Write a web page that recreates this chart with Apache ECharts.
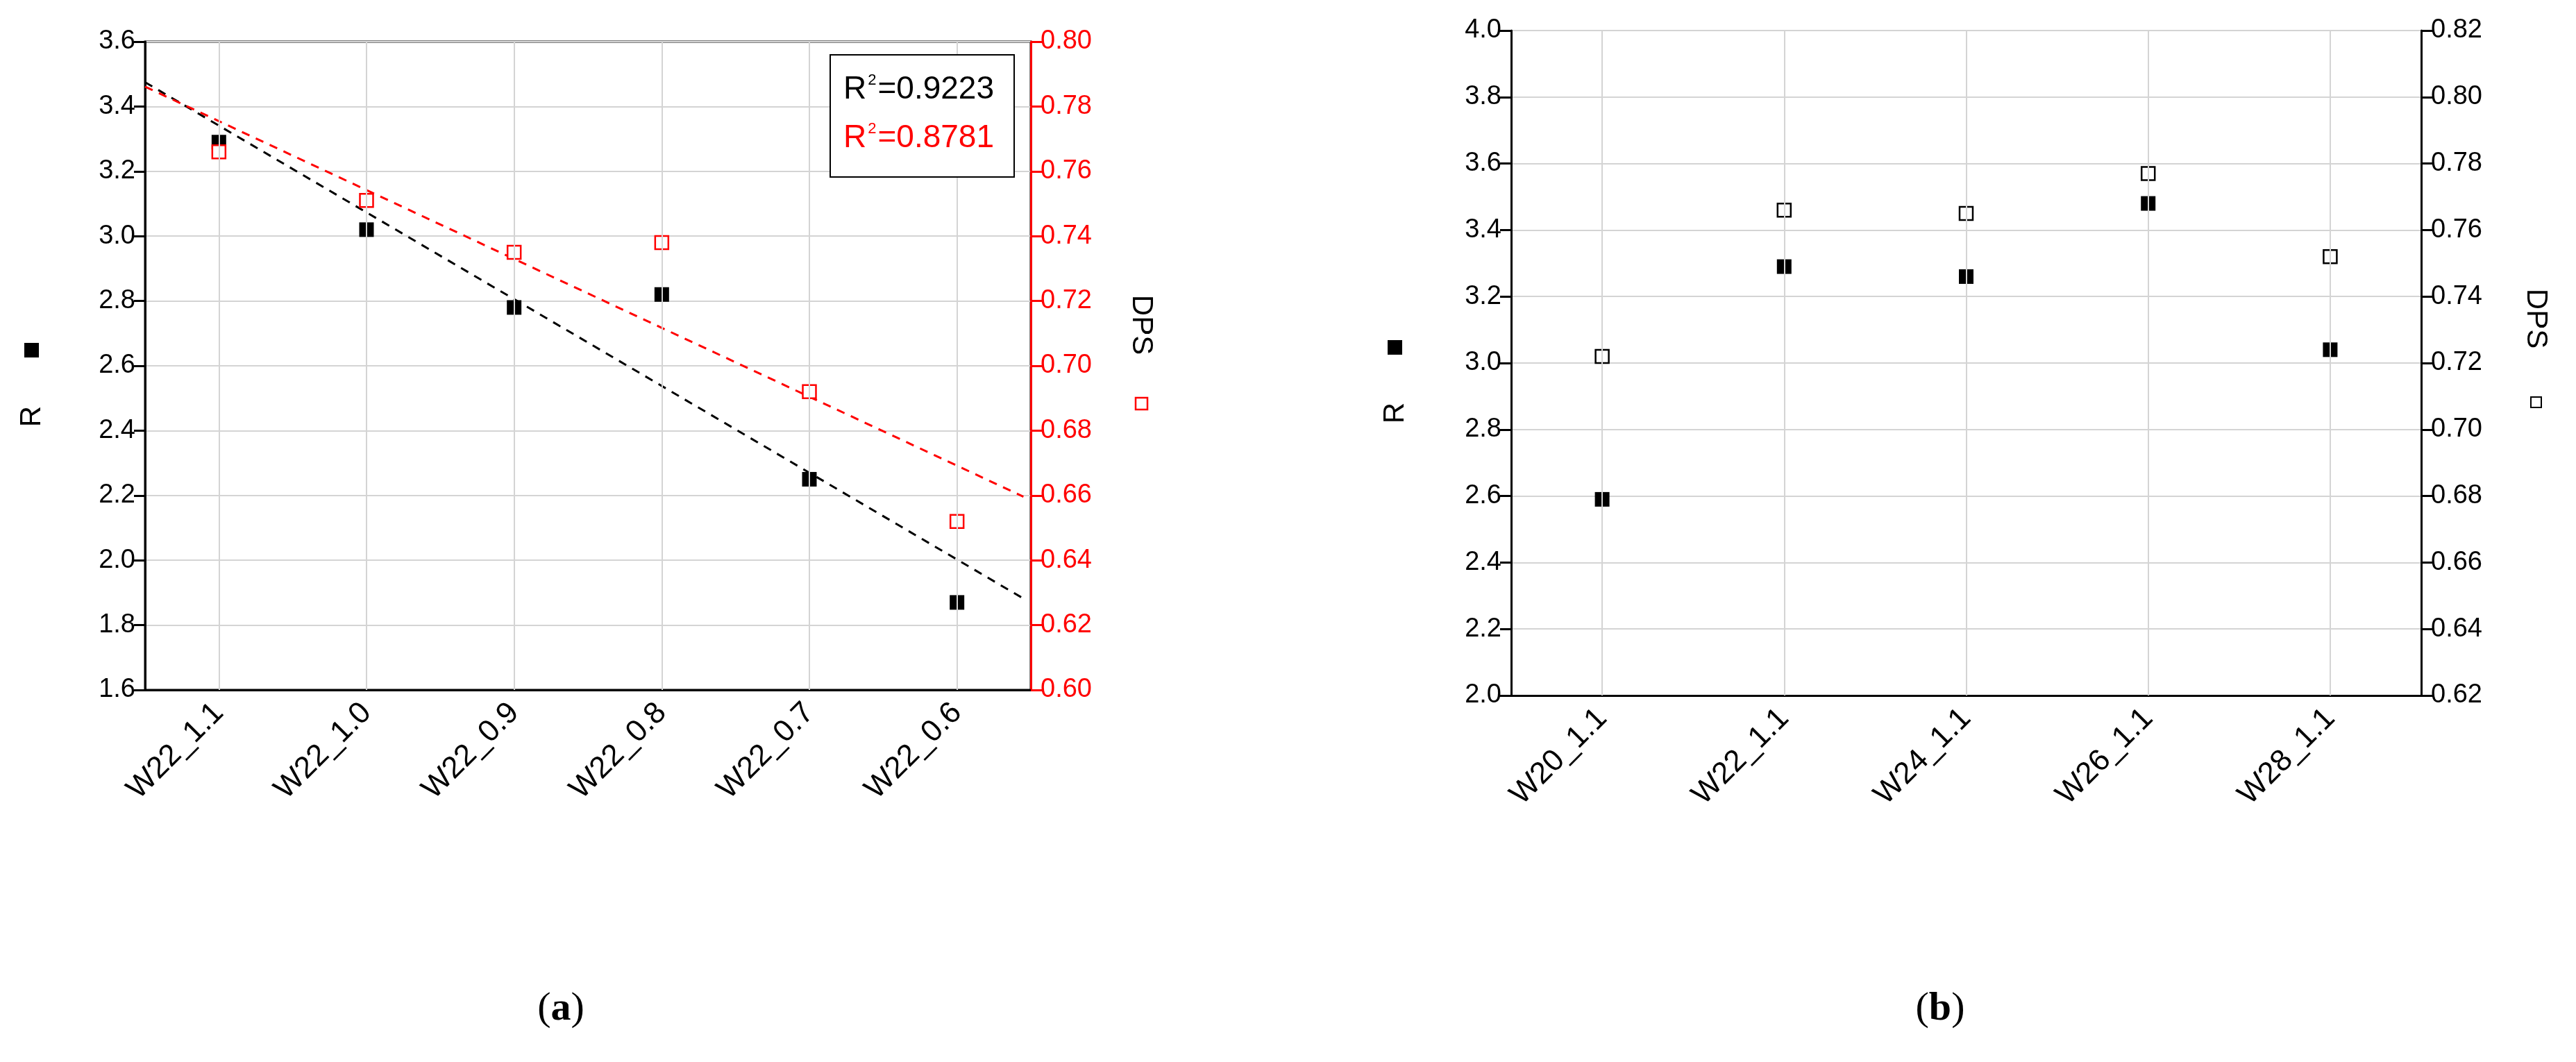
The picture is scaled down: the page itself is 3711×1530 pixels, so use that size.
<!DOCTYPE html>
<html>
<head>
<meta charset="utf-8">
<script src="https://cdn.jsdelivr.net/npm/echarts@6/dist/echarts.min.js"></script>
<style>html,body{margin:0;padding:0;background:#fff}#main{width:3711px;height:1530px}</style>
</head>
<body>
<div id="main"></div>
<script>
var catsA = ['W22_1.1', 'W22_1.0', 'W22_0.9', 'W22_0.8', 'W22_0.7', 'W22_0.6'];
var rA = [3.29, 3.02, 2.78, 2.82, 2.25, 1.87];
var dpsA = [0.766, 0.751, 0.735, 0.738, 0.692, 0.652];
var catsB = ['W20_1.1', 'W22_1.1', 'W24_1.1', 'W26_1.1', 'W28_1.1'];
var rB = [2.59, 3.29, 3.26, 3.48, 3.04];
var dpsB = [0.722, 0.766, 0.765, 0.777, 0.752];

// least squares fit over category index, drawn from -0.5 to 5.45
function fitLine(ys, x0, x1) {
  var n = ys.length, mx = (n - 1) / 2, my = 0, sxy = 0, sxx = 0;
  ys.forEach(function (y) { my += y / n; });
  ys.forEach(function (y, i) { sxy += (i - mx) * (y - my); sxx += (i - mx) * (i - mx); });
  var b = sxy / sxx;
  return [[x0, my + b * (x0 - mx)], [x1, my + b * (x1 - mx)]];
}
// vertical grid lines through category centres
function catLines(cats) {
  return { silent: true, symbol: 'none', label: { show: false },
    lineStyle: { color: '#d4d4d4', width: 2, type: 'solid' },
    data: cats.map(function (c) { return { xAxis: c }; }) };
}

var font = 'Liberation Sans, Arial, sans-serif';
var chart = echarts.init(document.getElementById('main'));

function catAxis(grid, data) {
  return {
    type: 'category', gridIndex: grid, data: data, boundaryGap: true,
    axisLine: { lineStyle: { color: '#000', width: 3 } },
    axisTick: { alignWithLabel: true, length: 16, lineStyle: { width: 3 } },
    axisLabel: { rotate: 45, fontSize: 44, color: '#000', fontFamily: font, margin: 26 },
    splitLine: { show: false }
  };
}
function valAxis(grid, min, max, step, color, pos, split) {
  return {
    type: 'value', gridIndex: grid, min: min, max: max, interval: step, position: pos,
    axisLine: { show: true, onZero: false, lineStyle: { color: color, width: 3 } },
    axisTick: { show: true, length: 16, lineStyle: { color: color, width: 3 } },
    axisLabel: { fontSize: 38, color: color, fontFamily: font, margin: 14,
      formatter: function (v) { return v.toFixed(step < 0.1 ? 2 : 1); } },
    splitLine: { show: split, lineStyle: { color: '#d4d4d4', width: 2 } }
  };
}

var option = {
  animation: false,
  backgroundColor: '#fff',
  grid: [
    { left: 209, top: 60, width: 1276, height: 934, show: true, borderColor: '#000', borderWidth: 3 },
    { left: 2177, top: 44, width: 1311, height: 958 }
  ],
  xAxis: [
    catAxis(0, catsA),
    catAxis(1, catsB),
    { type: 'value', gridIndex: 0, min: -0.5, max: 5.5, show: false, axisLine: { onZero: false } }
  ],
  yAxis: [
    valAxis(0, 1.6, 3.6, 0.2, '#000', 'left', true),
    valAxis(0, 0.60, 0.80, 0.02, '#ff0000', 'right', false),
    valAxis(1, 2.0, 4.0, 0.2, '#000', 'left', true),
    valAxis(1, 0.62, 0.82, 0.02, '#000', 'right', false)
  ],
  series: [
    { type: 'line', xAxisIndex: 2, yAxisIndex: 0, data: fitLine(rA, -0.5, 5.45), symbol: 'none',
      lineStyle: { color: '#000', width: 3, type: [12, 10] }, z: 3 },
    { type: 'line', xAxisIndex: 2, yAxisIndex: 1, data: fitLine(dpsA, -0.5, 5.45), symbol: 'none',
      lineStyle: { color: '#ff0000', width: 3, type: [12, 10] }, z: 3 },
    { type: 'scatter', xAxisIndex: 0, yAxisIndex: 0, data: rA, symbol: 'rect', symbolSize: 21,
      itemStyle: { color: '#000', opacity: 1 }, markLine: catLines(catsA), z: 4 },
    { type: 'scatter', xAxisIndex: 0, yAxisIndex: 1, data: dpsA, symbol: 'rect', symbolSize: 19,
      itemStyle: { color: '#fff', borderColor: '#ff0000', borderWidth: 2.5, opacity: 1 }, z: 4 },
    { type: 'scatter', xAxisIndex: 1, yAxisIndex: 2, data: rB, symbol: 'rect', symbolSize: 21,
      itemStyle: { color: '#000', opacity: 1 }, markLine: catLines(catsB), z: 4 },
    { type: 'scatter', xAxisIndex: 1, yAxisIndex: 3, data: dpsB, symbol: 'rect', symbolSize: 19,
      itemStyle: { color: '#fff', borderColor: '#000', borderWidth: 2.5, opacity: 1 }, z: 4 }
  ],
  graphic: [
    // R^2 box
    { type: 'rect', left: 1195, top: 78, z: 10, shape: { width: 265, height: 176 },
      style: { fill: '#fff', stroke: '#000', lineWidth: 2 } },
    { type: 'text', left: 1215, top: 105, z: 11, style: { text: '{b|R}{s|2}{b|=0.9223}',
      rich: { b: { fontSize: 46, fontFamily: font, fill: '#000' }, s: { fontSize: 22, fontFamily: font, fill: '#000', verticalAlign: 'top', padding: [0, 2, 26, 2] } } } },
    { type: 'text', left: 1215, top: 175, z: 11, style: { text: '{b|R}{s|2}{b|=0.8781}',
      rich: { b: { fontSize: 46, fontFamily: font, fill: '#ff0000' }, s: { fontSize: 22, fontFamily: font, fill: '#ff0000', verticalAlign: 'top', padding: [0, 2, 26, 2] } } } },
    // axis names (a)
    { type: 'rect', x: 35, y: 494, shape: { width: 21, height: 21 }, style: { fill: '#000' } },
    { type: 'text', x: 46, y: 600, rotation: Math.PI / 2, style: { text: 'R', fontSize: 42, fontFamily: font, fill: '#000', align: 'center', verticalAlign: 'middle' } },
    { type: 'text', x: 1644, y: 468, rotation: -Math.PI / 2, style: { text: 'DPS', fontSize: 42, fontFamily: font, fill: '#000', align: 'center', verticalAlign: 'middle' } },
    { type: 'rect', x: 1636, y: 573, shape: { width: 17, height: 17 }, style: { fill: '#fff', stroke: '#ff0000', lineWidth: 2.5 } },
    // axis names (b)
    { type: 'rect', x: 1999, y: 490, shape: { width: 21, height: 21 }, style: { fill: '#000' } },
    { type: 'text', x: 2010, y: 595, rotation: Math.PI / 2, style: { text: 'R', fontSize: 42, fontFamily: font, fill: '#000', align: 'center', verticalAlign: 'middle' } },
    { type: 'text', x: 3653, y: 459, rotation: -Math.PI / 2, style: { text: 'DPS', fontSize: 42, fontFamily: font, fill: '#000', align: 'center', verticalAlign: 'middle' } },
    { type: 'rect', x: 3646, y: 572, shape: { width: 15, height: 15 }, style: { fill: '#fff', stroke: '#000', lineWidth: 2 } },
    // captions
    { type: 'text', x: 808, y: 1454, style: { text: '({b|a})', fontSize: 58, fontFamily: 'Liberation Serif, serif', fill: '#000', align: 'center', verticalAlign: 'middle',
      rich: { b: { fontSize: 58, fontWeight: 'bold', fontFamily: 'Liberation Serif, serif' } } } },
    { type: 'text', x: 2795, y: 1454, style: { text: '({b|b})', fontSize: 58, fontFamily: 'Liberation Serif, serif', fill: '#000', align: 'center', verticalAlign: 'middle',
      rich: { b: { fontSize: 58, fontWeight: 'bold', fontFamily: 'Liberation Serif, serif' } } } }
  ]
};
chart.setOption(option);
</script>
</body>
</html>
